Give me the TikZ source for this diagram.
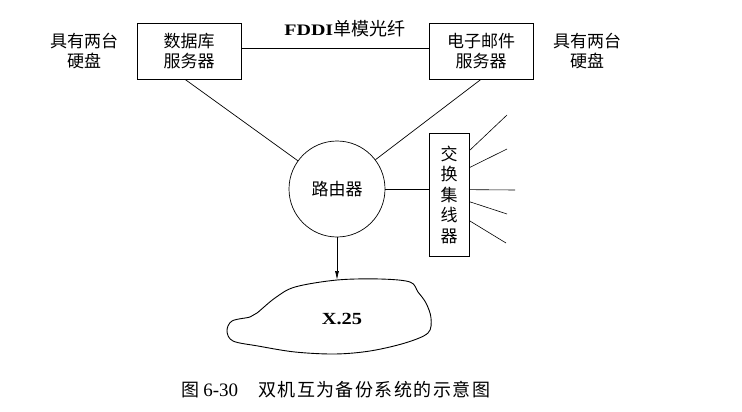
\documentclass[tikz,border=0pt]{standalone}
\usepackage{fontspec}
\setmainfont{Liberation Serif}
\newfontfamily\cjk{Noto Sans CJK SC}
\newfontfamily\cjkcap[LetterSpace=8]{Noto Sans CJK SC}
\usetikzlibrary{arrows.meta}
\begin{document}
\begin{tikzpicture}[x=1pt,y=-1pt,line width=0.7pt,
  box/.style={draw,minimum width=104pt,minimum height=56pt,inner sep=0pt,align=center,font=\cjk\fontsize{17}{20}\selectfont},
  lbl/.style={align=center,font=\cjk\fontsize{17}{20}\selectfont},
  ray/.style={line width=0.6pt}]
\useasboundingbox (0,0) rectangle (742,412);
\node[lbl] (ldisk) at (84,51) {具有两台\\硬盘};
\node[lbl] (rdisk) at (587,51) {具有两台\\硬盘};
\node[box] (db) at (189,51) {数据库\\服务器};
\node[box] (mail) at (481,51) {电子邮件\\服务器};
\draw (db.east |- 0,48) -- (mail.west |- 0,48);
\node[inner sep=0pt,anchor=west] (fddi) at (284,29) {\scalebox{1.25}[1]{\fontsize{16}{18}\selectfont\textbf{FDDI}}{\cjk\fontsize{18}{20}\selectfont 单模光纤}};
\node[draw,circle,minimum size=96pt,inner sep=0pt,font=\cjk\fontsize{17}{20}\selectfont] (router) at (337,189) {路由器};
\draw ([xshift=-4pt]db.south) -- (router);
\draw (mail.south) -- (router);
\node[draw,minimum width=40pt,minimum height=123pt,inner sep=0pt,align=center,font=\cjk\fontsize{17}{20.5}\selectfont] (sw) at (449,194.5) {交\\换\\集\\线\\器};
\draw (router.east) -- (router.east -| sw.west);
\coordinate (r1) at (507,115);
\coordinate (r2) at (507,149);
\coordinate (r3) at (515,190);
\coordinate (r4) at (507,214);
\coordinate (r5) at (506,243);
\draw[ray] ([yshift=-18pt]sw.north east) -- (r1);
\draw[ray] ([yshift=-35pt]sw.north east) -- (r2);
\draw[ray] ([yshift=-57pt]sw.north east) -- (r3);
\draw[ray] ([yshift=-69pt]sw.north east) -- (r4);
\draw[ray] ([yshift=-88pt]sw.north east) -- (r5);
\draw[line width=0.9pt] plot[smooth cycle,tension=0.55] coordinates {
 (227,331) (232,321) (250,317) (257,313) (275,298) (295,287) (337,280) (380,279)
 (410,282) (418,292) (426,303) (431,318) (428,333) (405,343) (370,351)
 (335,354) (295,352) (258,346) (233,341)};
\coordinate (cloudtop) at (337,280);
\node[inner sep=0pt] (x25) at (342,319) {\scalebox{1.2}[1]{\bfseries\fontsize{17}{18}\selectfont X.25}};
\draw[-{Latex[length=9pt,width=4pt]}] (router.south) -- (cloudtop);
\node[anchor=west,inner sep=0pt,font=\fontsize{19}{20}\selectfont] (cap) at (181,390) {{\cjk\fontsize{18}{20}\selectfont 图}\hspace{4pt}6-30\hspace{20pt}{\cjkcap\fontsize{18}{20}\selectfont 双机互为备份系统的示意图}};
\end{tikzpicture}
\end{document}
